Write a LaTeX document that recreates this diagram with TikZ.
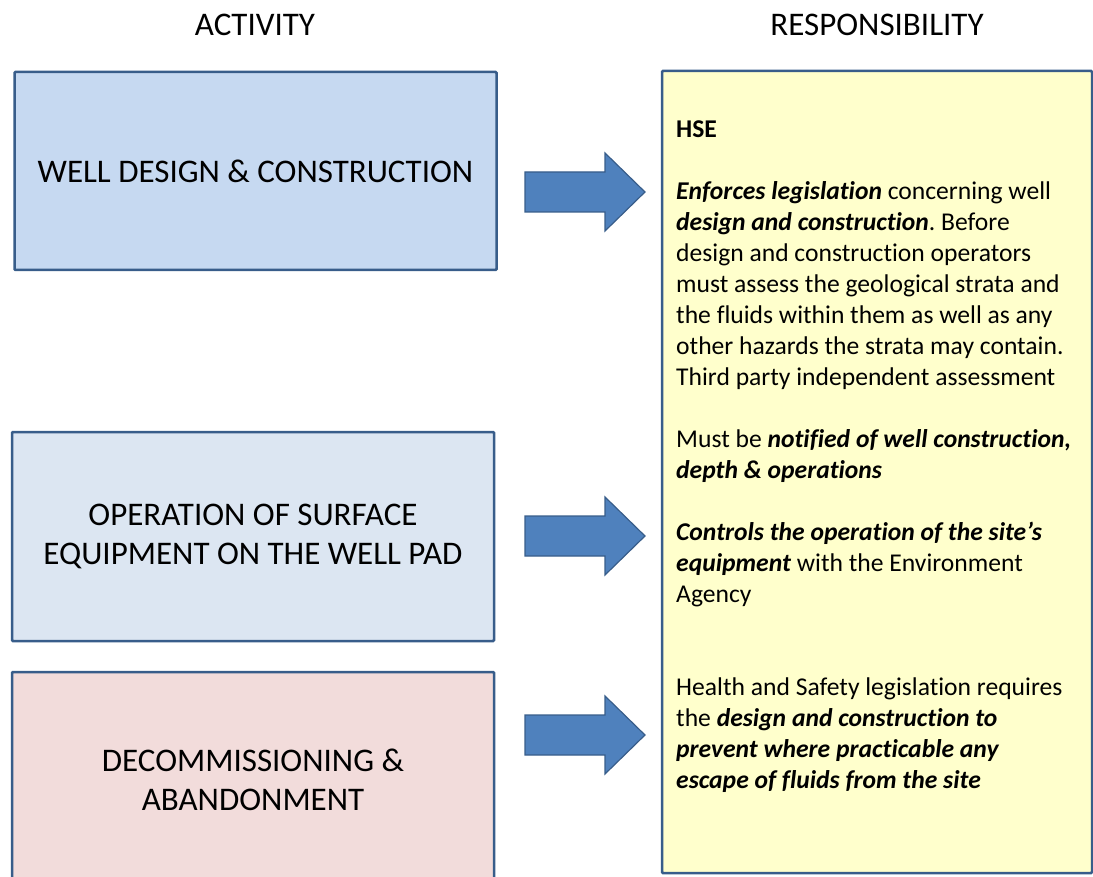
\documentclass[tikz,border=0pt]{standalone}
\usepackage{fontspec}
\setmainfont{Carlito}[Ligatures={NoCommon}]
\frenchspacing
\definecolor{bordc}{HTML}{385D8A}
\definecolor{fillA}{HTML}{C6D9F1}
\definecolor{fillB}{HTML}{DCE6F2}
\definecolor{fillC}{HTML}{F2DCDB}
\definecolor{fillY}{HTML}{FFFFCC}
\definecolor{arrfill}{HTML}{4F81BD}
\tikzset{
  actbox/.style={draw=bordc, line width=2.5pt, rounded corners=1pt, align=center,
    font=\fontsize{33}{39}\selectfont, inner sep=0pt},
  title/.style={font=\fontsize{33}{39}\selectfont, anchor=base},
  blockarrow/.style={draw=bordc, line width=1.2pt, fill=arrfill, line join=miter},
  rtext/.style={anchor=base west, inner sep=0pt, font=\fontsize{25.6}{31}\selectfont}
}
\begin{document}
\begin{tikzpicture}[x=1pt,y=-1pt]
\useasboundingbox (0,0) rectangle (1093,877);
% titles
\node[title] (t1) at (255,36) {ACTIVITY};
\node[title] (t2) at (877,36) {RESPONSIBILITY};
% activity boxes
\node[actbox, fill=fillA, minimum width=482pt, minimum height=198pt] (b1) at (255.5,171) {WELL DESIGN \& CONSTRUCTION};
\node[actbox, fill=fillB, minimum width=482pt, minimum height=209pt] (b2) at (253,536.5) {OPERATION OF SURFACE\\EQUIPMENT ON THE WELL PAD};
\node[actbox, fill=fillC, minimum width=482pt, minimum height=216pt] (b3) at (253,780) {DECOMMISSIONING \&\\ABANDONMENT};
% responsibility box
\node[draw=bordc, fill=fillY, line width=2.5pt, rounded corners=1pt, minimum width=430pt, minimum height=802pt, inner sep=0pt] (r) at (877,472) {};
% block arrows
\foreach \cy/\nm in {192/a1, 536/a2, 735/a3}{
  \draw[blockarrow] (525,\cy-20) -- (605,\cy-20) -- (605,\cy-39) -- (645,\cy) -- (605,\cy+39) -- (605,\cy+20) -- (525,\cy+20) -- cycle;
}
% responsibility text
\node[rtext] (l0) at (676,138) {\textbf{HSE}};
\node[rtext] (l1) at (676,200) {\textbf{\textit{Enforces legislation}} concerning well};
\node[rtext] (l2) at (676,231) {\textbf{\textit{design and construction}}. Before};
\node[rtext] (l3) at (676,262) {design and construction operators};
\node[rtext] (l4) at (676,293) {must assess the geological strata and};
\node[rtext] (l5) at (676,324) {the fluids within them as well as any};
\node[rtext] (l6) at (676,355) {other hazards the strata may contain.};
\node[rtext] (l7) at (676,386) {Third party independent assessment};
\node[rtext] (l8) at (676,447) {Must be \textbf{\textit{notified of well construction,}}};
\node[rtext] (l9) at (676,478) {\textbf{\textit{depth \& operations}}};
\node[rtext] (l10) at (676,540) {\textbf{\textit{Controls the operation of the site’s}}};
\node[rtext] (l11) at (676,571) {\textbf{\textit{equipment}} with the Environment};
\node[rtext] (l12) at (676,602) {Agency};
\node[rtext] (l13) at (676,695) {Health and Safety legislation requires};
\node[rtext] (l14) at (676,726) {the \textbf{\textit{design and construction to}}};
\node[rtext] (l15) at (676,757) {\textbf{\textit{prevent where practicable any}}};
\node[rtext] (l16) at (676,788) {\textbf{\textit{escape of fluids from the site}}};
\end{tikzpicture}
\end{document}
